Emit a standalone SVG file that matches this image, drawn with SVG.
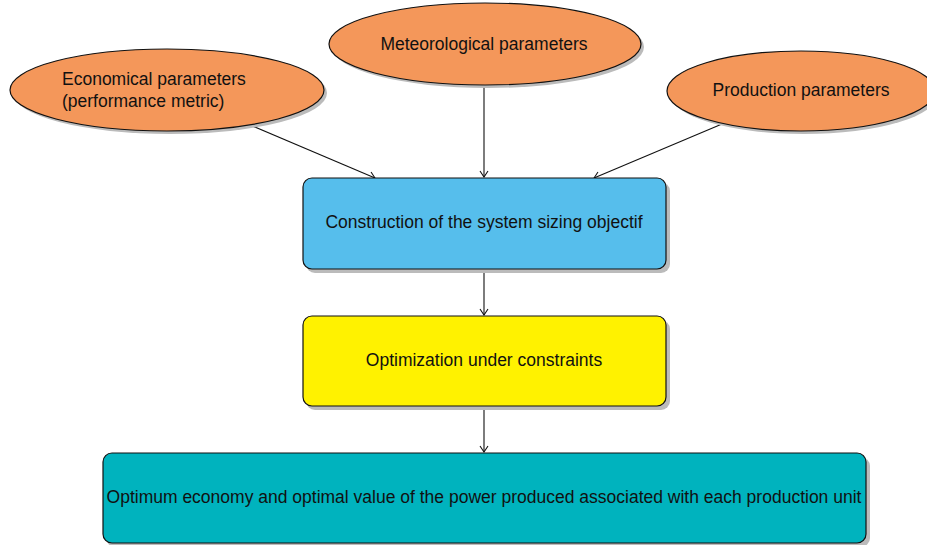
<svg xmlns="http://www.w3.org/2000/svg" width="927" height="545" viewBox="0 0 927 545">
<style>
text{font-family:"Liberation Sans",Arial,sans-serif;font-size:17.5px;fill:#111;text-anchor:middle;dominant-baseline:central}
.ell{fill:#F4975A;stroke:#111;stroke-width:1.2}
.box{stroke:#111;stroke-width:1.2}
.sh{fill:#bbb}
.con{stroke:#111;stroke-width:1.1;fill:none;marker-end:url(#ah)}
</style>
<defs>
<marker id="ah" markerWidth="10" markerHeight="10" refX="7" refY="5" orient="auto" markerUnits="userSpaceOnUse">
<path d="M1,1 L7,5 L1,9" fill="none" stroke="#111" stroke-width="1.1"/>
</marker>
</defs>
<g id="connectors">
<line class="con" x1="250" y1="125" x2="375" y2="178"/>
<line class="con" x1="484" y1="86" x2="484" y2="177"/>
<line class="con" x1="722" y1="124" x2="594" y2="178"/>
<line class="con" x1="484" y1="269" x2="484" y2="315"/>
<line class="con" x1="484" y1="406" x2="484" y2="452"/>
</g>
<g id="economical">
<ellipse class="sh" cx="170" cy="93" rx="157" ry="41"/>
<ellipse class="ell" cx="167" cy="90" rx="157" ry="41"/>
<text x="62" y="79" style="text-anchor:start">Economical parameters</text>
<text x="62" y="101" style="text-anchor:start">(performance metric)</text>
</g>
<g id="meteorological">
<ellipse class="sh" cx="488" cy="47" rx="156" ry="41"/>
<ellipse class="ell" cx="485" cy="44" rx="156" ry="41"/>
<text x="484" y="44">Meteorological parameters</text>
</g>
<g id="production">
<ellipse class="sh" cx="804" cy="94" rx="134" ry="40"/>
<ellipse class="ell" cx="801" cy="91" rx="134" ry="40"/>
<text x="801" y="90">Production parameters</text>
</g>
<g id="construction">
<rect class="sh" x="306" y="182" width="364" height="91" rx="9"/>
<rect class="box" x="303" y="178" width="363" height="91" rx="9" fill="#56BEEC"/>
<text x="484" y="222">Construction of the system sizing objectif</text>
</g>
<g id="optimization">
<rect class="sh" x="306" y="320" width="364" height="90" rx="9"/>
<rect class="box" x="303" y="316" width="363" height="90" rx="9" fill="#FFF200"/>
<text x="484" y="360">Optimization under constraints</text>
</g>
<g id="optimum">
<rect class="sh" x="106" y="457" width="764" height="90" rx="9"/>
<rect class="box" x="103" y="453" width="763" height="90" rx="9" fill="#00B3BE"/>
<text x="484" y="497">Optimum economy and optimal value of the power produced associated with each production unit</text>
</g>
</svg>
